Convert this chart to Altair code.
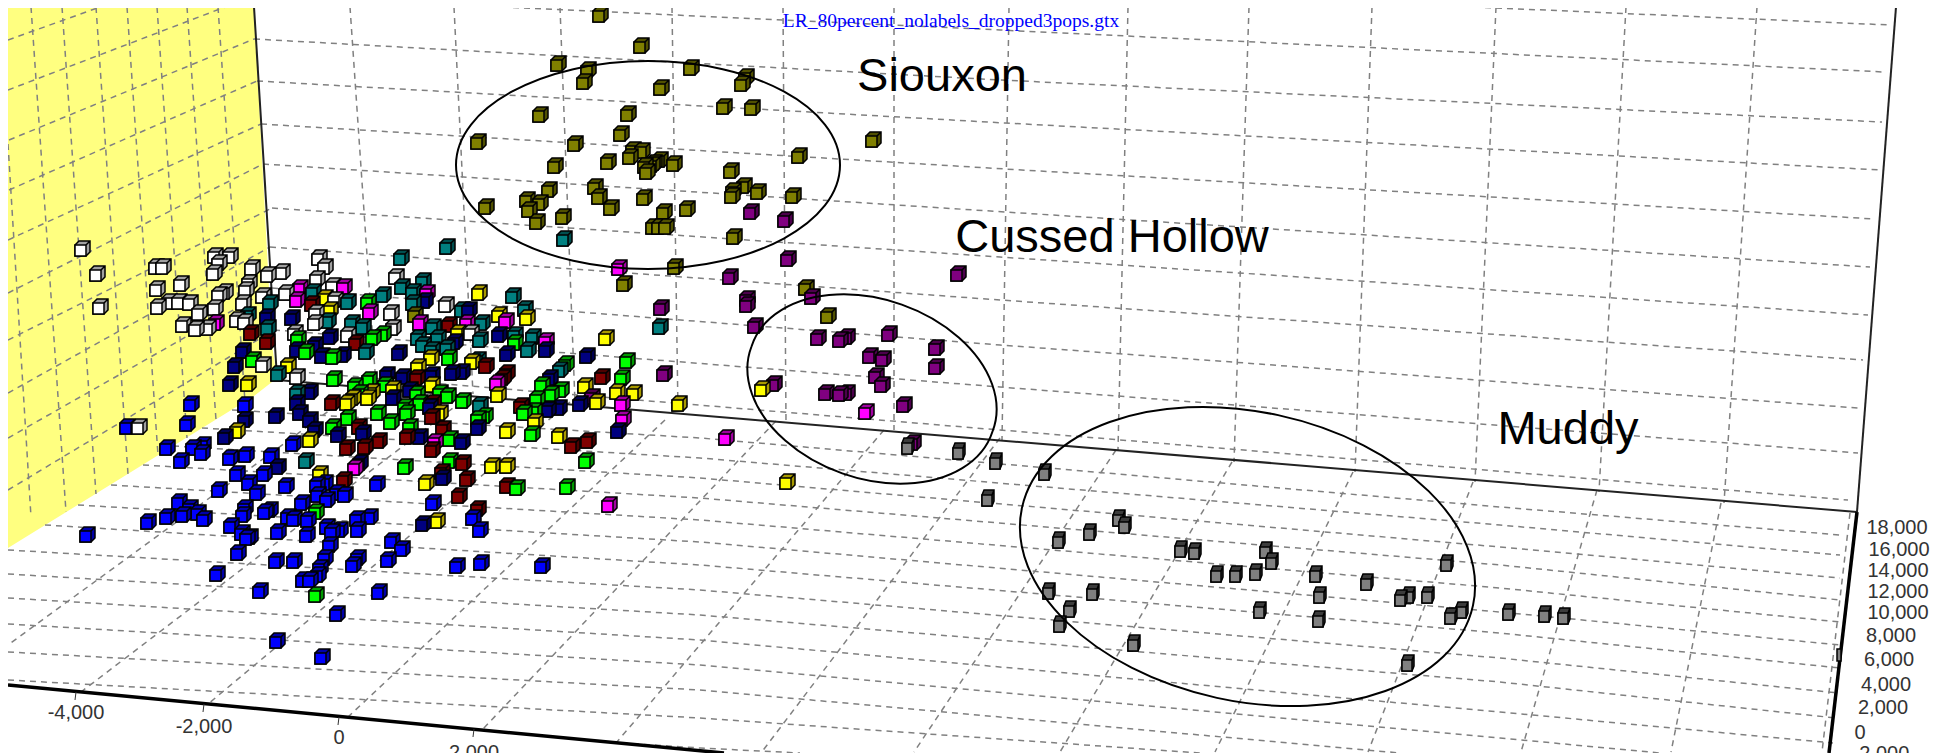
import altair as alt
import pandas as pd

# ---------- values (image pixel coordinates) ----------
olive = [(600,15),(641,46),(558,64),(588,70),(584,82),(691,68),(746,77),(742,84),(661,88),(724,107),(752,108),
         (540,115),(628,114),(621,134),(478,142),(575,144),(873,140),(633,150),(642,151),(630,157),(608,162),
         (555,166),(660,160),(654,163),(674,164),(645,166),(652,165),(647,172),(799,156),(731,171),(595,187),
         (599,197),(549,190),(527,200),(540,203),(529,210),(644,198),(611,208),(486,207),(563,217),(537,222),
         (664,212),(687,209),(653,227),(659,227),(666,227),(734,237),(732,196),(733,191),(744,186),(758,192),
         (793,196),(675,267),(624,284),(806,288),(828,316),(415,315)]
purple = [(751,212),(785,220),(788,259),(730,277),(747,299),(747,305),(812,297),(661,308),(755,326),(958,274),
          (818,338),(840,340),(847,337),(889,334),(936,348),(936,367),(870,356),(883,359),(876,376),(882,385),
          (774,384),(664,374),(826,393),(840,394),(847,393),(904,405),(913,443),(592,397)]
magenta = [(866,412),(726,438),(619,268),(622,404),(623,419),(506,321),(497,383),(546,341),(467,323),(420,323),
           (435,442),(355,468),(609,505),(300,288),(344,287),(297,300),(216,323),(370,312),(427,293)]
yellow = [(787,482),(762,389),(479,293),(499,315),(527,318),(606,338),(472,362),(418,367),(432,385),(498,395),
          (585,386),(617,392),(634,393),(597,402),(679,404),(535,422),(507,431),(559,436),(492,466),(507,466),
          (431,358),(458,333),(325,298),(330,310),(288,366),(248,384),(237,431),(310,440),(347,403),(353,398),
          (368,398),(372,392),(393,389),(440,413),(320,474),(426,483),(437,521)]
green = [(627,361),(622,378),(566,364),(542,385),(551,394),(561,390),(537,399),(534,411),(524,413),(532,434),
         (586,461),(515,343),(449,358),(407,413),(420,403),(417,394),(440,393),(448,396),(463,401),(478,419),
         (485,416),(410,427),(450,439),(450,461),(405,467),(298,339),(306,352),(368,302),(373,338),(383,334),
         (333,357),(253,360),(334,379),(355,386),(360,393),(369,380),(385,385),(405,407),(378,413),(391,422),
         (348,418),(333,427),(316,512),(316,595),(517,488),(567,487)]
blue = [(167,448),(181,461),(193,448),(203,445),(202,453),(230,458),(246,455),(271,456),(293,444),(237,474),
        (264,474),(286,486),(219,490),(249,483),(257,493),(179,502),(190,508),(167,517),(183,515),(198,513),
        (204,519),(148,522),(87,535),(245,508),(243,515),(265,512),(270,510),(231,526),(242,533),(247,538),
        (250,537),(238,553),(278,532),(307,535),(288,517),(294,519),(302,503),(308,520),(317,485),(325,483),
        (318,495),(327,500),(337,493),(345,495),(327,527),(332,532),(340,530),(330,545),(325,558),(320,568),
        (318,575),(303,580),(310,580),(276,561),(294,561),(260,591),(217,574),(353,565),(358,558),(357,519),
        (370,517),(358,530),(392,541),(402,549),(388,560),(379,592),(337,614),(277,641),(322,657),(377,484),
        (433,503),(457,566),(481,563),(542,566),(480,530),(473,518),(191,404),(187,424),(127,427),(245,405)]
white = [(82,249),(97,274),(100,307),(156,267),(163,267),(157,289),(181,284),(215,256),(230,256),(219,263),(214,273),
         (252,268),(268,275),(282,272),(249,283),(246,290),(263,296),(243,303),(219,295),(225,292),(215,308),(158,307),
         (169,302),(179,302),(190,303),(199,313),(183,325),(196,329),(208,328),(237,320),(245,322),(319,258),(325,267),
         (317,279),(333,286),(286,293),(316,313),(315,323),(391,313),(396,277),(393,328),(348,335),(446,305),(471,333),
         (295,333),(263,365),(297,377),(139,427),(335,300)]
teal = [(447,247),(401,258),(423,281),(383,295),(402,287),(413,292),(413,303),(313,292),(348,302),(270,303),(248,315),
        (268,328),(328,321),(352,323),(363,327),(366,352),(278,374),(297,393),(433,327),(418,338),(423,345),(432,350),
        (438,338),(447,348),(462,310),(482,323),(480,340),(478,360),(513,296),(525,309),(515,335),(528,350),(533,337),
        (560,370),(480,405),(660,327),(564,239),(306,461)]
navy = [(425,301),(469,310),(267,317),(292,318),(243,351),(235,366),(230,384),(330,337),(315,345),(297,350),(322,356),
        (343,355),(399,353),(455,342),(387,375),(403,377),(432,375),(452,373),(462,372),(310,392),(297,403),(300,413),
        (310,420),(315,430),(276,416),(225,437),(245,420),(393,398),(410,390),(363,433),(478,428),(430,407),(420,437),
        (462,442),(587,356),(499,335),(507,354),(546,350),(550,378),(548,410),(559,408),(580,404),(618,431),(278,467),
        (423,524),(443,478),(360,463),(338,435)]
darkred = [(602,377),(588,441),(572,446),(521,406),(507,373),(503,378),(486,366),(449,325),(443,429),(432,450),(463,463),
           (433,403),(432,417),(407,437),(417,378),(312,304),(251,333),(267,342),(356,343),(332,403),(359,427),(379,441),
           (347,448),(365,447),(344,480),(442,472),(467,479),(459,496),(478,509),(507,486)]
grey = [(907,446),(958,451),(995,461),(1044,472),(987,498),(1118,518),(1124,525),(1089,532),(1058,540),(1180,549),(1194,551),
        (1265,550),(1271,561),(1216,574),(1235,574),(1255,572),(1315,574),(1366,582),(1048,591),(1092,592),(1069,609),(1059,624),
        (1133,643),(1259,610),(1319,595),(1318,619),(1400,598),(1408,595),(1427,595),(1446,563),(1450,616),(1461,610),(1407,663),
        (1508,612),(1544,614),(1563,616)]
edge_on = [(1839,655)]

wall_tops = [31,62,96,127,157,187,218]
wall_bots = [(66,512),(96,494),(128,474),(158,455),(187,438),(216,420),(245,402)]
wall_cross = [((8,40),(100,7)),((8,90),(225,7)),((9,140),(254,39)),((9,190),(257,81)),((8,240),(261,124)),((8,293),(263,164)),
              ((8,340),(272,208)),((8,393),(270,247)),((8,438),(272,288)),((8,490),(274,330)),((8,144),(31,517))]
back_h = [((1474,7),(1000,7),(1890,25)),((502,7),(1000,30),(1884,72)),((254,39),(1000,80),(1882,122)),
          ((257,81),(1005,123),(1880,170)),((261,124),(1005,169),(1875,219)),((263,164),(1005,212),(1870,267)),
          ((272,208),(1000,257),(1868,315)),((270,247),(1000,300),(1863,360)),((272,288),(1000,345),(1858,408)),
          ((274,330),(1000,387),(1858,453)),((276,370),(1000,430),(1848,500))]
back_h[0] = ((1474,7),(1890,25))
back_v = [((350,7),(376,386)),((454,7),(473,394)),((560,7),(575,403)),((672,7),(678,412)),((783,7),(786,421)),((894,7),(894,430)),
          ((1009,7),(1002,440)),((1128,7),(1118,450)),((1249,7),(1234,462)),((1372,7),(1355,472)),((1496,7),(1475,482)),
          ((1626,7),(1599,492)),((1757,7),(1724,503))]
floor_h = [((232,410),(700,438),(1500,507),(1840,535)),((202,428),(700,458),(1500,525),(1840,555)),
           ((173,446),(700,478),(1500,547),(1840,578)),((143,465),(700,498),(1500,565),(1840,600)),
           ((111,485),(700,520),(1500,588),(1840,622)),((78,505),(700,542),(1500,612),(1840,645)),
           ((45,525),(700,565),(1500,633),(1840,668)),((8,550),(700,590),(1500,658),(1838,693)),
           ((8,574),(700,615),(1500,682),(1836,718)),((8,598),(700,640),(1500,712),(1833,743)),
           ((8,624),(700,665),(1500,738),(1660,753)),((8,652),(700,690),(1400,753)),((8,680),(700,718),(1200,753)),
           ((622,743),(700,748),(800,753))]
floor_d = [((363,386),(8,645)),((470,395),(81,692)),((570,402),(208,704)),((665,420),(348,717)),((776,421),(482,730)),
           ((884,430),(616,743)),((1000,438),(761,753)),((1116,450),(914,752)),((1232,462),(1060,752)),((1353,472),(1215,752)),
           ((1473,482),(1368,752)),((1597,490),(1521,752)),((1721,503),(1671,752)),((1850,513),(1822,752))]
solid_thin = [((277,380),(1857,512)),((1896,7),(1857,512)),((277,378),(254,7))]
solid_thick = [((8,685),(724,753)),((1857,512),(1829,753))]
ticks = [((76,692),(75,700)),((204,704),(203,712)),((339,717),(338,725)),((474,729),(473,737))]

wall_x, wall_top, wall_bottom = [8,254,272,277], [7,7,345,378], [548,396,382,378]

x_labels = ["-4,000","-2,000","0","2,000"]
x_label_x, x_label_y = [76,204,339,474], [713,727,738,753]
z_labels = ["18,000","16,000","14,000","12,000","10,000","8,000","6,000","4,000","2,000","0","-2,000"]
z_label_x = [1897,1899,1898,1898,1898,1891,1889,1886,1883,1860,1881]
z_label_y = [528,550,571,592,613,636,660,685,708,733,754]
names = ["Siouxon","Cussed Hollow","Muddy"]
name_x, name_y = [942,1112,1568], [77,238,430]
title = "LR_80percent_nolabels_dropped3pops.gtx"
ell_x, ell_y = [648,872,1247.5], [165,389,556.5]

# ---------- styles ----------
colours = {"olive":("#808000","#505000"),"purple":("#800080","#4c004c"),"magenta":("#ff00ff","#a000a0"),
           "yellow":("#ffff00","#a89a00"),"green":("#00ff00","#009a00"),"blue":("#0000ff","#0000a8"),
           "white":("#ffffff","#a0a0a0"),"teal":("#008080","#004f4f"),"navy":("#000080","#000050"),
           "darkred":("#800000","#4c0000"),"grey":("#808080","#3c3c3c")}
series = {"olive":olive,"purple":purple,"magenta":magenta,"yellow":yellow,"green":green,"blue":blue,
          "white":white,"teal":teal,"navy":navy,"darkred":darkred,"grey":grey}
FRONT = "M-7,-4H4V7H-7Z"
SIDE = "M-7,-4L-3,-8H8V3L4,7H-7ZM4,-4L8,-8"
FRONT_G = "M-5,-3H5V8H-5Z"
SIDE_G = "M-5,-3L-3,-8H7V3L5,8H-5ZM5,-3L7,-8"
FRONT_E = "M-2,-6H2V6H-2Z"
ELLIPSES = ["M-192,0A192,104 0 1,1 192,0A192,104 0 1,1 -192,0Z",
            "M-120.5,-42.5A127.8,87.8 19.4 1,1 120.5,42.5A127.8,87.8 19.4 1,1 -120.5,-42.5Z",
            "M-225.5,-48.9A230.7,144.6 12.25 1,1 225.5,48.9A230.7,144.6 12.25 1,1 -225.5,-48.9Z"]

points = sorted(((y, x, n) for n, pts in series.items() for x, y in pts), key=lambda t: t[0])
rows = []
for i, (y, x, n) in enumerate(points):
    f, s = colours[n]
    g = n == "grey"
    rows.append({"x":x,"y":y,"fill":s,"shape":SIDE_G if g else SIDE,"k":2*i})
    rows.append({"x":x,"y":y,"fill":f,"shape":FRONT_G if g else FRONT,"k":2*i+1})
for x, y in edge_on:
    rows.append({"x":x,"y":y,"fill":"#808080","shape":FRONT_E,"k":10**6})
cubes_df = pd.DataFrame(rows)

def lines_df(groups):
    out = []
    for i, seg in enumerate(groups):
        for j, (a, b) in enumerate(seg):
            out.append({"id":i,"o":j,"x":a,"y":b})
    return pd.DataFrame(out)

X = alt.Scale(domain=[8,1932])
Y = alt.Scale(domain=[753,8])
xe = alt.X("x:Q", scale=X, axis=None)
ye = alt.Y("y:Q", scale=Y, axis=None)

def dashed(groups, width=1.5, dash=(6,5)):
    return alt.Chart(lines_df(groups)).mark_line(color="#808080", strokeWidth=width, strokeDash=list(dash), clip=True).encode(
        x=xe, y=ye, detail="id:N", order="o:Q")

def solid(groups, width, color="#111111"):
    return alt.Chart(lines_df(groups)).mark_line(color=color, strokeWidth=width, clip=True).encode(
        x=xe, y=ye, detail="id:N", order="o:Q")

wall = alt.Chart(pd.DataFrame({"x":wall_x,"y":wall_top,"y2":wall_bottom})).mark_area(color="#ffff80", opacity=1, clip=True).encode(
    x=xe, y=ye, y2="y2:Q")

wall_v = [((t,7),b) for t,b in zip(wall_tops, wall_bots)]
cubes = alt.Chart(cubes_df).mark_point(filled=True, opacity=1, stroke="#000000", strokeWidth=1.5, size=4).encode(
    x=xe, y=ye, fill=alt.Fill("fill:N", scale=None), shape=alt.Shape("shape:N", scale=None), order="k:Q")

ell = alt.Chart(pd.DataFrame({"x":ell_x,"y":ell_y,"s":ELLIPSES})).mark_point(filled=False, opacity=1, stroke="#000000", strokeWidth=2, size=4).encode(
    x=xe, y=ye, shape=alt.Shape("s:N", scale=None))

def txt(values, xs, ys, size, color, font="Liberation Sans"):
    return alt.Chart(pd.DataFrame({"x":xs,"y":ys,"t":values})).mark_text(fontSize=size, color=color, font=font, align="center", baseline="middle").encode(
        x=xe, y=ye, text="t:N")

chart = alt.layer(
    wall,
    dashed(wall_v + wall_cross),
    dashed(back_v + back_h),
    dashed(floor_h + floor_d),
    solid(solid_thin, 2, "#222222"),
    solid(solid_thick, 3.5, "#000000"),
    solid(ticks, 1, "#333333"),
    cubes,
    ell,
    txt(names, name_x, name_y, 47, "#000000"),
    txt(x_labels, x_label_x, x_label_y, 20, "#333333"),
    txt(z_labels, z_label_x, z_label_y, 20, "#333333"),
    txt([title], [951], [21], 19.5, "#0000ff", "Liberation Serif"),
).properties(width=1924, height=745, padding=0, autosize=alt.AutoSizeParams(type="none"), background="white"
).configure_view(stroke=None)

chart.save("out.html", embed_options={"renderer": "svg", "actions": False})
